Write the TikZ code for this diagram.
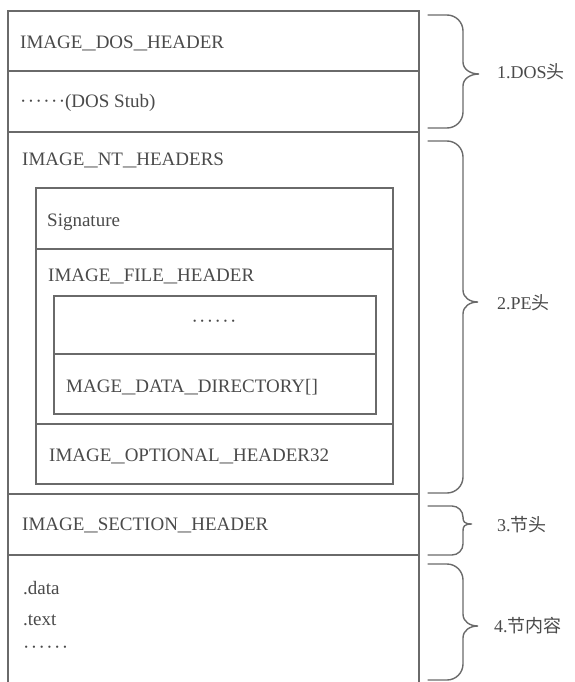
\documentclass[tikz,border=0pt]{standalone}
\usepackage{graphicx}
\usepackage{fontspec}
\setmainfont{Liberation Serif}
\newfontfamily\cjk{Noto Sans CJK SC}
\definecolor{linegray}{HTML}{6A6A6A}
\definecolor{textgray}{HTML}{4A4A4A}
\newcommand\us{\scalebox{1.4}[1]{\_}}
\newcommand\dd{·\kern1.4pt}
\newcommand\sixdots{\dd\dd\dd\dd\dd·}
% brace: #1 top, #2 bottom, #3 tip y, #4 tip x, #5 corner radius, #6 tip half height
\newcommand\mybrace[6]{%
  \draw[brc] (428,#1) -- (463-#5,#1)
    .. controls (463-0.45*#5,#1) and (463,#1+0.45*#5) .. (463,#1+#5)
    -- (463,#3-#6)
    .. controls (463,#3-0.35*#6) and (#4-8,#3) .. (#4,#3)
    .. controls (#4-8,#3) and (463,#3+0.35*#6) .. (463,#3+#6)
    -- (463,#2-#5)
    .. controls (463,#2-0.45*#5) and (463-0.45*#5,#2) .. (463-#5,#2)
    -- (428,#2);}
\begin{document}
\begin{tikzpicture}[x=1pt,y=-1pt,
  frame/.style={draw=linegray,line width=1.4pt},
  brc/.style={draw=linegray,line width=1.4pt,line cap=round},
  lbl/.style={anchor=base west,inner sep=0pt,font=\fontsize{19}{22}\selectfont,text=textgray},
  dotsnode/.style={anchor=west,inner sep=0pt,font=\fontsize{19}{22}\selectfont,text=textgray},
  side/.style={anchor=west,inner sep=0pt,font=\fontsize{18}{21}\selectfont,text=textgray}]
\useasboundingbox (0,0) rectangle (574,682);
% outer structure
\draw[frame] (8,682) -- (8,11) -- (419,11) -- (419,682);
\draw[frame] (8,71) -- (419,71);
\draw[frame] (8,132) -- (419,132);
\draw[frame] (8,494) -- (419,494);
\draw[frame] (8,555) -- (419,555);
% IMAGE_NT_HEADERS inner box
\draw[frame] (36,188) rectangle (393,484);
\draw[frame] (36,249) -- (393,249);
\draw[frame] (36,424) -- (393,424);
% optional header inner box
\draw[frame] (54,296) rectangle (376,414);
\draw[frame] (54,354) -- (376,354);
% texts
\node[lbl] (dosh) at (20,49) {IMAGE\us DOS\us HEADER};
\node[lbl] (stub) at (20,107) {\sixdots(DOS Stub)};
\node[lbl] (nth) at (22,165) {IMAGE\us NT\us HEADERS};
\node[lbl] (sig) at (47,226) {Signature};
\node[lbl] (fh) at (48,281) {IMAGE\us FILE\us HEADER};
\node[dotsnode,anchor=center] (odots) at (214,324) {\sixdots};
\node[lbl] (dd) at (66,392) {MAGE\us DATA\us DIRECTORY[]};
\node[lbl] (oh) at (49,461) {IMAGE\us OPTIONAL\us HEADER32};
\node[lbl] (sh) at (22,530) {IMAGE\us SECTION\us HEADER};
\node[lbl] (sdata) at (23,594) {.data};
\node[lbl] (stext) at (23,625) {.text};
\node[dotsnode] (sdots) at (23,650) {\sixdots};
% braces
\mybrace{15}{128}{74}{479}{16}{12}
\mybrace{141}{493}{302}{478}{16}{12}
\mybrace{506}{555}{524}{472}{11}{7}
\mybrace{564}{680}{626}{478}{16}{12}
% side labels
\node[side] (l1) at (497,72) {1.DOS{\cjk 头}};
\node[side] (l2) at (497,303) {2.PE{\cjk 头}};
\node[side] (l3) at (497,525) {3.{\cjk 节头}};
\node[side] (l4) at (494,626) {4.{\cjk 节内容}};
\end{tikzpicture}
\end{document}
